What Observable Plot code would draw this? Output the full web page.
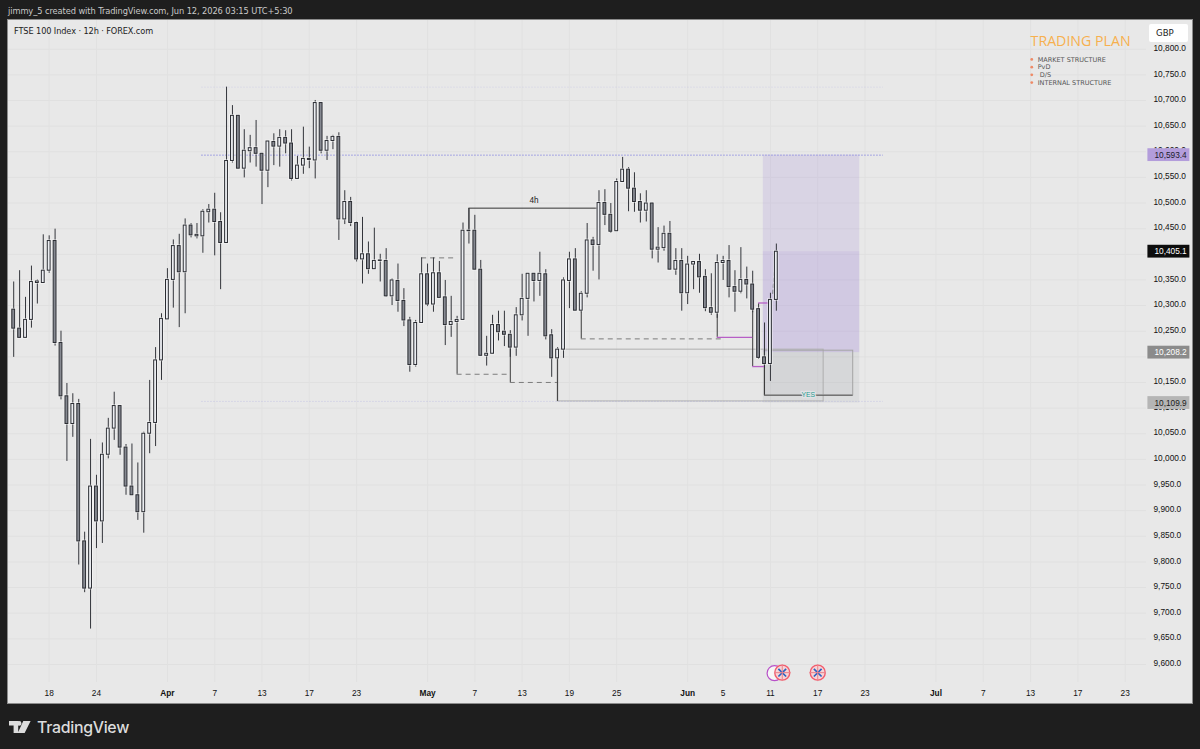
<!DOCTYPE html>
<html><head><meta charset="utf-8">
<script src="https://cdn.jsdelivr.net/npm/d3@7"></script>
<script src="https://cdn.jsdelivr.net/npm/@observablehq/plot@0.6"></script>
<style>
html,body{margin:0;padding:0;background:#1e1e1e;width:1200px;height:749px;overflow:hidden}
#hdr{position:absolute;left:8px;top:6px;font:8.3px "DejaVu Sans",sans-serif;color:#c9c9c9;white-space:nowrap;letter-spacing:-.1px}
#frame{position:absolute;left:8px;top:20px;width:1184px;height:683px;outline:1px solid #8c8c8c}
#title{position:absolute;left:14px;top:26px;font:8.2px "DejaVu Sans",sans-serif;color:#222;white-space:nowrap;letter-spacing:-.1px}
#gbp{position:absolute;left:1149px;top:24px;width:39px;height:18px;background:#fff;border-radius:2px;font:8.6px/18px "DejaVu Sans",sans-serif;color:#222;text-indent:7px}
#ftr{position:absolute;left:9px;top:716px;height:22px;display:flex;align-items:center;gap:5px;font:500 15.9px Inter,sans-serif;color:#dcdcdc;letter-spacing:-.3px}
</style></head><body>
<div id="hdr">jimmy_5 created with TradingView.com, Jun 12, 2026 03:15 UTC+5:30</div>
<div id="frame"></div>
<div id="title">FTSE 100 Index · 12h · FOREX.com</div>
<div id="gbp">GBP</div>
<div id="ftr"><svg width="23" height="12" viewBox="0 0 25 13"><path fill="#dcdcdc" d="M0 0H10V13H5V5H0ZM15.5 0H23.5L17 13H9.5ZM11 0A2.6 2.6 0 1 1 11 5.2A2.6 2.6 0 1 1 11 0Z"/></svg><span>TradingView</span></div>
<script>
const highs=[10346,10368,10316,10377,10350,10438,10436,10449,10250,10148,
10128,10117,9858,10039,9969,10032,10080,10131,10104,10029,
10030,9993,10053,10154,10218,10284,10372,10428,10439,10469,
10460,10460,10487,10497,10519,10481,10726,10690,10671,10643,
10632,10661,10597,10620,10635,10643,10641,10643,10591,10648,
10609,10700,10695,10630,10632,10637,10524,10511,10463,10472,
10424,10451,10400,10411,10352,10381,10333,10277,10271,10393,
10381,10393,10386,10349,10318,10279,10461,10489,10476,10388,
10240,10281,10289,10289,10251,10296,10361,10362,10362,10404,
10370,10253,10218,10354,10404,10411,10327,10460,10433,10524,
10526,10499,10547,10589,10569,10559,10518,10524,10500,10452,
10455,10464,10411,10411,10396,10385,10400,10370,10362,10399,
10396,10417,10368,10413,10375,10367,10303,10266,10324,10420];
const bodyTops=[10292,10255,10272,10346,10347,10368,10426,10426,10227,10123,
10108,10108,9840,9947,9947,10009,10060,10104,10104,10023,
9947,9930,10050,10071,10193,10274,10350,10416,10416,10456,
10456,10438,10483,10487,10487,10463,10582,10670,10670,10602,
10607,10607,10596,10620,10619,10627,10627,10616,10573,10586,
10586,10695,10695,10621,10629,10629,10502,10502,10461,10400,
10400,10387,10388,10387,10349,10348,10309,10271,10266,10361,
10361,10363,10363,10316,10268,10272,10446,10446,10446,10370,
10206,10262,10262,10249,10243,10281,10313,10362,10362,10362,
10361,10242,10214,10349,10390,10390,10323,10427,10427,10500,
10500,10477,10541,10565,10565,10528,10502,10499,10499,10413,
10440,10440,10387,10387,10380,10385,10385,10356,10295,10383,
10387,10387,10336,10350,10350,10341,10293,10199,10311,10405];
const bodyBottoms=[10255,10237,10237,10272,10344,10344,10368,10227,10123,10069,
10069,9840,9748,9748,9879,9879,10009,10060,10023,9947,
9930,9897,9897,10050,10071,10193,10273,10350,10365,10365,
10437,10435,10435,10482,10463,10422,10422,10582,10567,10567,
10601,10596,10563,10563,10610,10610,10616,10547,10547,10573,
10584,10583,10602,10602,10621,10468,10468,10461,10390,10390,
10371,10371,10387,10318,10318,10309,10271,10184,10184,10266,
10302,10302,10315,10262,10262,10268,10272,10445,10370,10202,
10202,10206,10248,10243,10218,10218,10281,10313,10348,10348,
10240,10197,10197,10214,10348,10290,10290,10323,10418,10418,
10477,10444,10445,10541,10528,10502,10485,10485,10409,10409,
10412,10370,10370,10324,10324,10380,10355,10295,10286,10286,
10383,10336,10327,10327,10341,10292,10198,10186,10186,10311];
const lows=[10199,10237,10237,10256,10303,10344,10363,10221,10116,9996,
10043,9794,9740,9669,9826,9836,10001,10037,10008,9930,
9930,9881,9856,10011,10025,10154,10273,10295,10257,10284,
10432,10430,10402,10461,10397,10331,10422,10578,10567,10549,
10578,10570,10497,10530,10573,10570,10596,10543,10547,10556,
10567,10547,10596,10583,10604,10427,10458,10454,10385,10342,
10361,10371,10346,10316,10300,10287,10259,10170,10180,10266,
10298,10287,10315,10222,10238,10267,10272,10420,10370,10202,
10182,10206,10231,10220,10199,10201,10270,10240,10307,10318,
10233,10160,10197,10197,10294,10290,10286,10315,10367,10350,
10456,10441,10445,10541,10483,10482,10461,10463,10391,10383,
10406,10370,10359,10289,10302,10331,10324,10288,10281,10275,
10349,10315,10287,10323,10313,10286,10195,10177,10152,10289];
const rising=[0,0,1,1,1,1,1,0,0,0,
1,0,0,1,0,1,1,1,0,0,
0,0,1,1,1,1,1,1,0,1,
0,1,1,1,0,0,1,1,0,1,
1,0,0,1,0,1,0,0,1,1,
1,1,0,1,1,0,1,0,0,1,
0,1,1,0,1,0,0,0,1,1,
0,1,0,0,1,1,1,1,0,0,
1,1,0,0,0,1,1,1,0,1,
0,0,1,1,1,0,1,1,0,1,
0,0,1,1,0,0,0,1,0,1,
1,0,1,0,1,1,0,0,0,1,
1,0,0,1,0,0,0,0,1,1];
const candles=highs.map((h,i)=>({i,high:h,top:bodyTops[i],bot:bodyBottoms[i],low:lows[i],up:!!rising[i]}));

const xTicksMinor=[6,14,34,42,50,58,78,86,94,102,120,128,136,144,164,172,180,188];
const xLabelsMinor=["18","24","7","13","17","23","7","13","19","25","5","11","17","23","7","13","17","23"];
const xTicksMajor=[26,70,114,156];
const xLabelsMajor=["Apr","May","Jun","Jul"];
const yTicks=d3.range(9600,10801,50);
const yLabelTicks=yTicks.filter(v=>v!==10400&&v!==10200);

const entry=10208.2, target=10593.4, stop=10109.9, last=10405.1;
const priceLevels=[target,last,entry,stop];
const priceFill=["#b39ddb","#0d0d0d","#8b8b8b","#b5b5b5"];
const priceInk=["#1a1a2a","#ffffff","#ffffff","#1a1a1a"];
const dottedLevels=[{y:10726,o:.18},{y:target,o:1},{y:10113,o:.25}];
const dashes=[[10393,69,75],[10166,75,84],[10150,84,92],[10235,96,120]];
const solidsV=[[75,10267,10166],[84,10218,10150],[92,10197,10113],[96,10290,10235],[119,10286,10238],[125,10292,10181],[127,10186,10125],[77,10489,10446]];
const magenta=[[10238,119,125],[10181,125,127],[10305,126,128]];
const projection=[{i:128.4,p:10324},{i:129,p:10405}];

const xf=d3.format(",.1f");
const legendLines=["MARKET STRUCTURE","PvD"," D/S","INTERNAL STRUCTURE"];
const legendLevels=[10780,10765,10750,10735];

const chart=Plot.plot({
  width:1184,height:683,marginLeft:0,marginRight:46,marginTop:0,marginBottom:21,
  style:{background:"#e8e8e8",fontFamily:"'Liberation Sans',sans-serif"},
  x:{domain:[-0.88,191.61],axis:null},
  y:{domain:[9564.8,10856],axis:null},
  marks:[
    Plot.gridY(yTicks,{stroke:"#e0e0e0",strokeOpacity:1}),
    Plot.gridX(xTicksMinor.concat(xTicksMajor),{stroke:"#e1e1e1",strokeOpacity:1}),
    Plot.axisY({anchor:"right",ticks:yLabelTicks,tickFormat:xf,tickSize:0,tickPadding:7,label:null,fontSize:8.3,fill:"#111",dy:-1}),
    Plot.axisX({ticks:xTicksMinor,tickFormat:i=>xLabelsMinor[xTicksMinor.indexOf(i)],tickSize:0,tickPadding:7.5,label:null,fontSize:8.3,fill:"#111"}),
    Plot.axisX({ticks:xTicksMajor,tickFormat:i=>xLabelsMajor[xTicksMajor.indexOf(i)],tickSize:0,tickPadding:7.5,label:null,fontSize:8.3,fontWeight:"bold",fill:"#111"}),
    // position zones
    Plot.rect([0],{x1:126.8,x2:143.1,y1:entry,y2:target,fill:"#a68fd8",fillOpacity:.22}),
    Plot.rect([0],{x1:126.8,x2:143.1,y1:entry,y2:last,fill:"#a68fd8",fillOpacity:.16}),
    Plot.rect([0],{x1:126.8,x2:143.1,y1:stop,y2:entry,fill:"#787b86",fillOpacity:.1}),
    // zones
    Plot.rect([0],{x1:92,x2:137,y1:10113,y2:10214,fill:"#787b86",fillOpacity:.015,stroke:"#b0b0b0",strokeWidth:1}),
    Plot.rect([0],{x1:127,x2:142,y1:10125,y2:10212,fill:"#787b86",fillOpacity:.05,stroke:"#a4a4a4",strokeWidth:1}),
    Plot.ruleY([10125],{x1:127,x2:142,stroke:"#5c5c5c",strokeWidth:1}),
    // levels
    Plot.ruleY(dottedLevels,{y:"y",x1:31.8,x2:147.1,stroke:"#8f8fe0",strokeDasharray:"1.5,1.5",strokeOpacity:"o"}),
    Plot.ruleY(dashes,{y:d=>d[0],x1:d=>d[1],x2:d=>d[2],stroke:"#7c7c7c",strokeDasharray:"5,4"}),
    Plot.line(projection,{x:"i",y:"p",stroke:"#8a8a96",strokeDasharray:"3,3"}),
    Plot.ruleX(solidsV,{x:d=>d[0],y1:d=>d[1],y2:d=>d[2],stroke:"#3a3a3a"}),
    Plot.ruleY(magenta,{y:d=>d[0],x1:d=>d[1],x2:d=>d[2],stroke:"#b75fc6",strokeWidth:1.3}),
    Plot.ruleY([10490],{x1:77,x2:99,stroke:"#333"}),
    Plot.text(["4h"],{x:88,y:10505,fontSize:8.2,fill:"#222"}),
    // candles
    Plot.ruleX(candles,{x:"i",y1:"low",y2:"high",stroke:"#33353b",strokeWidth:1}),
    Plot.rect(candles,{x1:d=>d.i-.24,x2:d=>d.i+.24,y1:"bot",y2:"top",fill:"none",stroke:"#ffffff",strokeOpacity:.55,strokeWidth:2.6}),
    Plot.rect(candles,{x1:d=>d.i-.24,x2:d=>d.i+.24,y1:"bot",y2:"top",fill:d=>d.up?"#eceef2":"#868991",stroke:"#2b2d33",strokeWidth:1}),
    Plot.text(["YES"],{x:134.4,y:10125,fontSize:6.8,fill:"#1f9c8f",stroke:"#e2e2e6",strokeWidth:2.5,paintOrder:"stroke"}),
    // event flags
    Plot.dot([128.7],{x:d=>d,y:9583,r:7.5,fill:"#f6f6f6",stroke:"#b84fc8",strokeWidth:1.2}),
    Plot.dot([130,136],{x:d=>d,y:9584,r:7.5,fill:"#f6d4d6",stroke:"#f25d6e",strokeWidth:1.4}),
    Plot.dot([130,136],{x:d=>d,y:9584,r:3.6,symbol:"times",stroke:"#2c62c0",strokeWidth:1.7}),
    Plot.dot([130,136],{x:d=>d,y:9584,r:5.4,symbol:"plus",stroke:"#e9838c",strokeWidth:1}),
    // price labels
    Plot.rect(priceLevels,{x1:191.85,x2:198.95,y1:d=>d-12.5,y2:d=>d+12.5,fill:(d,i)=>priceFill[i]}),
    Plot.text(priceLevels,{x:192.95,y:d=>d,text:xf,textAnchor:"start",fontSize:8.3,fill:(d,i)=>priceInk[i]}),
    // trading plan
    Plot.text(["TRADING PLAN"],{x:172,y:10815,textAnchor:"start",fontFamily:"'Open Sans',sans-serif",fontSize:14.2,fill:"#f7b04e"}),
    Plot.dot(legendLevels,{x:172.2,y:d=>d,r:1.4,fill:"#ee8a66"}),
    Plot.text(legendLines,{x:173.2,y:(d,i)=>legendLevels[i],textAnchor:"start",fontFamily:"'DejaVu Sans',sans-serif",fontSize:6.5,fill:"#555",text:d=>d})
  ]
});
document.getElementById("frame").appendChild(chart);
</script>
</body></html>
